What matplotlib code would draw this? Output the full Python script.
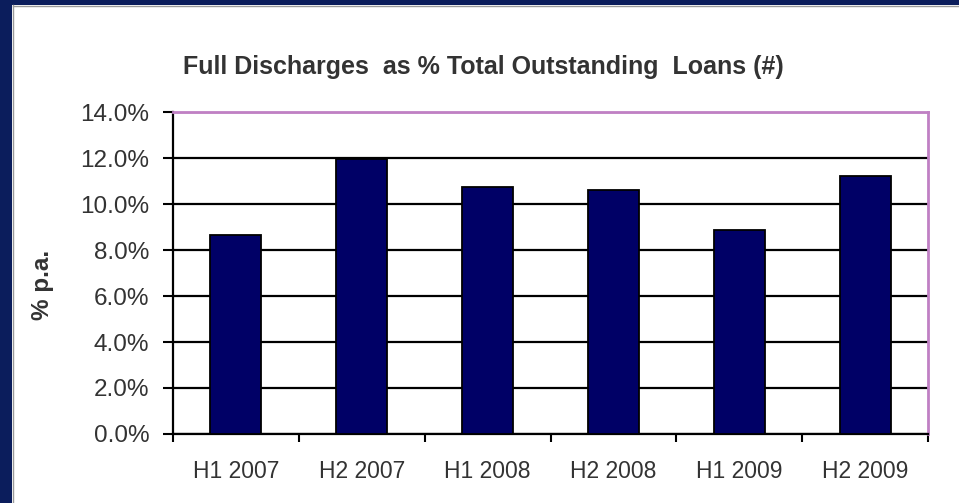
import matplotlib
matplotlib.use("Agg")
import matplotlib.pyplot as plt
from matplotlib.patches import Rectangle
from matplotlib.ticker import FuncFormatter, FixedLocator
import numpy as np

# Half-yearly full discharges as share of outstanding loans
periods = ["H1 2007", "H2 2007", "H1 2008", "H2 2008", "H1 2009", "H2 2009"]
discharge_pct = [8.65, 11.95, 10.75, 10.6, 8.85, 11.2]
y_ticks = [0, 2, 4, 6, 8, 10, 12, 14]

plt.rcParams["font.family"] = ["Liberation Sans", "DejaVu Sans"]
text_color = "#333333"
navy = "#0b1d5c"

fig = plt.figure(figsize=(9.59, 5.03), dpi=100)
fig.patch.set_facecolor("white")

# dark frame along the left and top edges
fig.patches.append(Rectangle((0, 0), 12 / 959, 1, transform=fig.transFigure,
                             facecolor=navy, edgecolor="none", zorder=0))
fig.patches.append(Rectangle((0, 1 - 5 / 503), 1, 5 / 503, transform=fig.transFigure,
                             facecolor=navy, edgecolor="none", zorder=0))
fig.lines.append(plt.Line2D([12.5 / 959, 12.5 / 959], [0, 1 - 5 / 503], transform=fig.transFigure,
                            color="#9a9a9a", lw=1))
fig.lines.append(plt.Line2D([12.5 / 959, 1], [1 - 5.5 / 503, 1 - 5.5 / 503], transform=fig.transFigure,
                            color="#9a9a9a", lw=1))

ax = fig.add_axes([173 / 959, 1 - 434 / 503, (928 - 173) / 959, (434 - 112) / 503])

x = np.arange(len(periods))
ax.bar(x, discharge_pct, width=0.405, color="#000066", edgecolor="black", linewidth=1.3, zorder=3)

ax.set_xlim(-0.5, len(periods) - 0.5)
ax.set_ylim(0, 14)
ax.set_yticks(y_ticks)
ax.yaxis.set_major_formatter(FuncFormatter(lambda v, _: f"{v:.1f}%"))
ax.set_xticks(x)
ax.set_xticklabels(periods)
ax.xaxis.set_minor_locator(FixedLocator(np.arange(-0.5, len(periods), 1.0)))

ax.tick_params(axis="x", which="major", length=0, pad=19, labelsize=16.5, labelcolor=text_color)
ax.tick_params(axis="x", which="minor", length=6, width=1.5, color="black", direction="out")
ax.tick_params(axis="y", length=7, width=1.5, color="black", direction="out",
               pad=10, labelsize=17.5, labelcolor=text_color)

ax.yaxis.grid(True, color="black", linewidth=1.6, zorder=1)
ax.set_axisbelow(True)

for side in ("left", "bottom"):
    ax.spines[side].set_color("black")
    ax.spines[side].set_linewidth(1.6)
for side in ("top", "right"):
    ax.spines[side].set_color("#c080c4")
    ax.spines[side].set_linewidth(2)

fig.text(483 / 959, 1 - 67 / 503, "Full Discharges  as % Total Outstanding  Loans (#)",
         ha="center", va="center", fontsize=18, fontweight="bold", color=text_color)
fig.text(42 / 959, 1 - 285 / 503, "% p.a.", ha="center", va="center", rotation=90,
         fontsize=17.5, fontweight="bold", color=text_color)

fig.savefig("out.png", dpi=100)
